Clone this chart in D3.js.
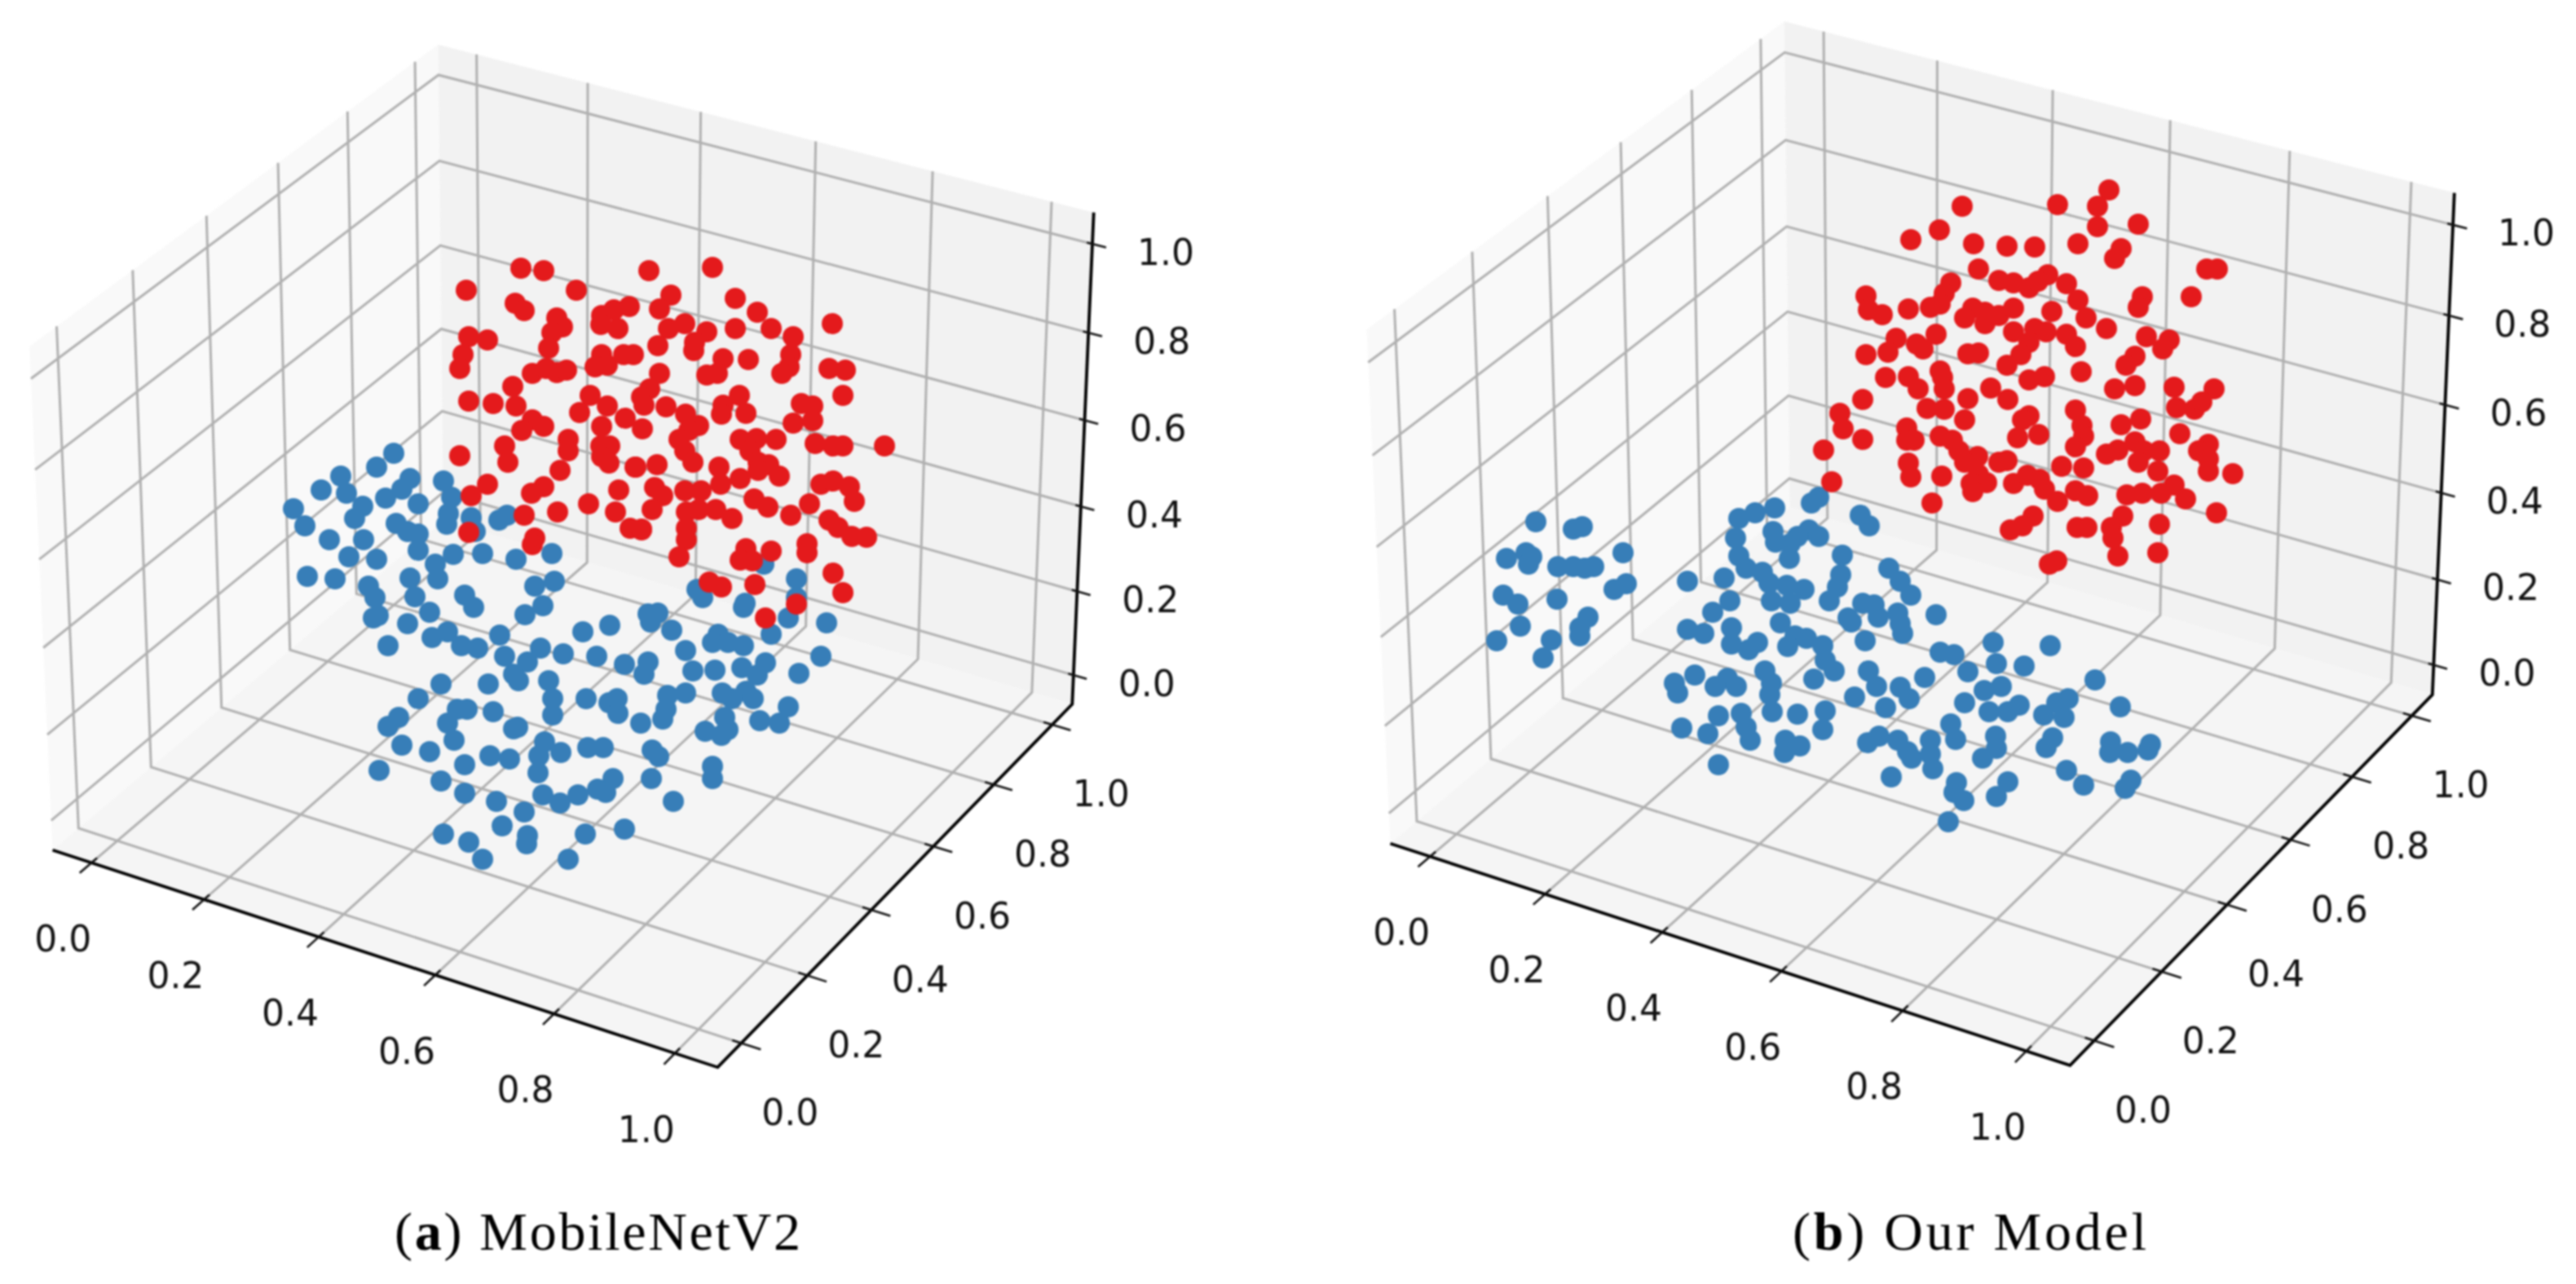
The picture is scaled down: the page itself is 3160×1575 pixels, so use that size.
<!DOCTYPE html>
<html>
<head>
<meta charset="utf-8">
<script src="https://cdn.jsdelivr.net/npm/d3@7"></script>
<style>
  html, body { margin: 0; background: #fff; }
  svg { display: block; filter: blur(0.9px); }
  .tick-label { font-family: "DejaVu Sans"; font-size: 44px; fill: #111; text-anchor: middle; dominant-baseline: central; }
  .caption { font-family: "Liberation Serif"; font-size: 66px; fill: #000; }
</style>
</head>
<body>
<div id="chart"></div>
<script>
const tickValues = [0, 0.2, 0.4, 0.6, 0.8, 1]
const tickLabels = ['0.0', '0.2', '0.4', '0.6', '0.8', '1.0']
const captions = [['(', 'a', ') MobileNetV2'], ['(', 'b', ') Our Model']]

// the depth of a 3d scatter can't be read back from a flat picture, so the points
// are kept as picture-plane positions (1 unit = 1000 px of the figure)
const blueA = [[.483,.556],[.462,.573],[.418,.584],[.394,.601],[.425,.605],[.503,.587],[.493,.600],[.473,.611],[.445,.621],[.435,.636],[.513,.618],[.544,.590],[.554,.610],[.550,.630],[.548,.643],[.578,.635],[.583,.652],[.622,.632],[.612,.638],[.360,.624],[.374,.645],[.404,.662],[.446,.662],[.486,.642],[.500,.652],[.513,.655],[.513,.675],[.556,.680],[.592,.679],[.633,.686],[.677,.679],[.428,.683],[.462,.686],[.377,.707],[.411,.710],[.534,.692],[.537,.710],[.680,.713],[.656,.719],[.503,.709],[.452,.719],[.460,.733],[.509,.732],[.570,.730],[.581,.745],[.666,.743],[.644,.754],[.527,.751],[.464,.755],[.458,.758],[.500,.765],[.855,.723],[.862,.733],[.914,.740],[.912,.745],[.967,.758],[.977,.710],[.977,.733],[.937,.692],[.795,.753],[.807,.752],[.798,.763],[.824,.773],[1.014,.764],[.946,.778],[.748,.767],[.715,.775],[.613,.779],[.476,.792],[.530,.782],[.549,.775],[.566,.792],[.586,.795],[.663,.795],[.691,.802],[.732,.805],[.619,.805],[.647,.812],[.841,.798],[.881,.778],[.874,.788],[.893,.788],[.912,.792],[.766,.815],[.795,.812],[.790,.827],[1.007,.805],[.850,.823],[.877,.822],[.910,.819],[.939,.813],[.929,.828],[.980,.826],[.630,.827],[.636,.835],[.673,.835],[.541,.839],[.599,.839],[.513,.857],[.719,.857],[.747,.862],[.757,.857],[.758,.875],[.841,.850],[.819,.853],[.886,.850],[.915,.848],[.924,.857],[.898,.857],[.678,.857],[.678,.877],[.561,.870],[.573,.870],[.489,.880],[.476,.891],[.549,.887],[.605,.873],[.817,.870],[.813,.882],[.786,.887],[.967,.867],[.932,.884],[.956,.887],[.889,.880],[.865,.897],[.893,.895],[.885,.902],[.635,.892],[.630,.894],[.557,.908],[.493,.914],[.527,.922],[.668,.910],[.688,.923],[.661,.927],[.721,.917],[.740,.917],[.800,.920],[.808,.928],[.570,.938],[.601,.927],[.625,.931],[.660,.948],[.465,.945],[.874,.940],[.874,.955],[.752,.955],[.799,.955],[.541,.958],[.733,.968],[.743,.972],[.570,.973],[.666,.975],[.709,.975],[.687,.985],[.609,.983],[.826,.983],[.643,.996],[.616,1.013],[.766,1.017],[.718,1.023],[.544,1.023],[.647,1.025],[.646,1.035],[.575,1.033],[.592,1.054],[.697,1.054]]

const redA = [[.639,.329],[.667,.332],[.572,.356],[.707,.356],[.796,.332],[.632,.372],[.643,.381],[.683,.390],[.690,.401],[.677,.408],[.673,.427],[.575,.413],[.598,.417],[.568,.435],[.564,.452],[.653,.458],[.670,.452],[.683,.457],[.695,.454],[.738,.387],[.753,.380],[.772,.376],[.758,.403],[.737,.398],[.738,.435],[.730,.450],[.745,.448],[.765,.435],[.777,.435],[.629,.474],[.633,.498],[.575,.492],[.605,.495],[.724,.485],[.745,.498],[.711,.506],[.653,.515],[.640,.528],[.667,.523],[.767,.513],[.738,.523],[.697,.539],[.697,.553],[.619,.547],[.623,.567],[.564,.559],[.748,.547],[.737,.547],[.738,.560],[.747,.568],[.779,.573],[.687,.577],[.598,.594],[.578,.608],[.667,.597],[.652,.605],[.759,.601],[.722,.618],[.643,.632],[.684,.628],[.755,.628],[.773,.648],[.787,.650],[.575,.653],[.656,.660],[.653,.668],
  [.874,.328],[.823,.362],[.809,.379],[.902,.366],[.929,.383],[.946,.403],[.902,.403],[1.021,.397],[.820,.403],[.840,.397],[.867,.407],[.852,.420],[.851,.430],[.807,.424],[.973,.413],[.970,.435],[.968,.450],[.959,.458],[.887,.440],[.918,.441],[.880,.458],[.867,.460],[1.017,.452],[1.037,.454],[1.034,.485],[.809,.458],[.797,.477],[.787,.487],[.790,.497],[.817,.499],[.907,.485],[.887,.497],[.885,.508],[.915,.507],[.983,.495],[.997,.498],[.973,.519],[.997,.516],[.788,.526],[.841,.508],[.857,.522],[.845,.528],[.833,.539],[.840,.553],[.850,.567],[.908,.539],[.928,.538],[.952,.539],[1.000,.544],[1.022,.547],[1.034,.547],[1.085,.547],[.920,.553],[.930,.567],[.943,.570],[.930,.577],[.956,.584],[.908,.587],[.806,.570],[.780,.573],[.882,.573],[.884,.594],[.803,.598],[.813,.608],[.840,.602],[.860,.602],[.800,.625],[1.007,.594],[1.022,.590],[1.042,.597],[1.048,.615],[.925,.612],[.942,.622],[.993,.618],[.970,.632],[.842,.628],[.857,.625],[.878,.625],[.898,.636],[1.017,.638],[1.028,.647],[1.045,.658],[1.063,.659],[.842,.648],[.842,.662],[.787,.649],[.833,.683],[.990,.667],[.990,.678],[.915,.673],[.908,.687],[.923,.688],[.946,.676],[1.022,.703],[1.034,.727],[.870,.714],[.885,.720],[.926,.717],[.977,.741],[.939,.758]]

const blueB = [[1.884,.640],[1.930,.649],[1.941,.646],[1.848,.685],[1.872,.678],[1.879,.683],[1.875,.692],[1.911,.695],[1.930,.695],[1.944,.697],[1.955,.695],[1.991,.678],[1.995,.716],[1.980,.723],[1.844,.730],[1.862,.741],[1.910,.735],[1.948,.757],[1.938,.770],[1.938,.780],[1.865,.768],[1.836,.786],[1.903,.785],[1.893,.807],[2.231,.610],[2.222,.617],[2.177,.623],[2.153,.629],[2.133,.636],[2.282,.632],[2.293,.645],[2.175,.652],[2.129,.660],[2.219,.650],[2.231,.658],[2.205,.658],[2.178,.665],[2.196,.667],[2.195,.685],[2.260,.681],[2.133,.682],[2.142,.697],[2.162,.702],[2.258,.705],[2.254,.720],[2.317,.697],[2.331,.713],[2.344,.730],[2.070,.713],[2.115,.709],[2.170,.715],[2.192,.718],[2.213,.723],[2.173,.737],[2.196,.740],[2.244,.737],[2.122,.737],[2.101,.751],[2.285,.740],[2.299,.742],[2.304,.757],[2.328,.752],[2.375,.754],[2.267,.758],[2.271,.763],[2.331,.765],[2.334,.777],[2.184,.764],[2.124,.770],[2.070,.772],[2.090,.777],[2.202,.780],[2.288,.786],[2.216,.783],[2.124,.790],[2.156,.788],[2.145,.797],[2.236,.792],[2.193,.793],[2.445,.788],[2.515,.792],[2.380,.800],[2.397,.803],[2.449,.814],[2.483,.817],[2.239,.810],[2.165,.823],[2.079,.828],[2.119,.832],[2.292,.823],[2.250,.823],[2.225,.833],[2.414,.824],[2.361,.831],[2.570,.834],[2.054,.838],[2.104,.842],[2.130,.842],[2.173,.838],[2.302,.842],[2.331,.843],[2.171,.852],[2.058,.850],[2.455,.842],[2.434,.847],[2.410,.862],[2.342,.857],[2.275,.855],[2.537,.857],[2.523,.862],[2.601,.867],[2.477,.865],[2.463,.873],[2.440,.873],[2.507,.877],[2.532,.880],[2.313,.868],[2.174,.873],[2.205,.876],[2.239,.872],[2.108,.878],[2.136,.875],[2.142,.892],[2.063,.893],[2.095,.900],[2.236,.895],[2.393,.888],[2.399,.907],[2.448,.903],[2.368,.908],[2.449,.918],[2.147,.908],[2.190,.908],[2.208,.915],[2.189,.923],[2.291,.911],[2.305,.903],[2.328,.908],[2.340,.922],[2.345,.930],[2.368,.925],[2.518,.905],[2.510,.917],[2.589,.910],[2.588,.923],[2.610,.923],[2.638,.913],[2.635,.920],[2.432,.930],[2.371,.943],[2.108,.938],[2.535,.945],[2.320,.953],[2.463,.959],[2.556,.963],[2.614,.957],[2.607,.967],[2.400,.960],[2.397,.972],[2.409,.982],[2.449,.977],[2.390,1.008]]

const redB = [[2.587,.233],[2.524,.251],[2.573,.253],[2.407,.253],[2.623,.275],[2.573,.278],[2.379,.282],[2.344,.294],[2.421,.299],[2.462,.302],[2.496,.303],[2.549,.299],[2.602,.305],[2.594,.317],[2.707,.330],[2.720,.330],[2.427,.330],[2.452,.344],[2.470,.347],[2.489,.353],[2.512,.337],[2.500,.345],[2.535,.348],[2.393,.347],[2.385,.360],[2.289,.363],[2.549,.368],[2.628,.364],[2.623,.377],[2.688,.364],[2.292,.380],[2.309,.386],[2.341,.379],[2.380,.373],[2.368,.377],[2.420,.378],[2.410,.390],[2.435,.383],[2.435,.397],[2.452,.387],[2.470,.378],[2.517,.382],[2.559,.390],[2.584,.403],[2.470,.407],[2.496,.403],[2.510,.407],[2.535,.410],[2.489,.420],[2.546,.425],[2.375,.410],[2.326,.415],[2.351,.422],[2.359,.428],[2.316,.432],[2.289,.435],[2.633,.413],[2.661,.417],[2.653,.428],[2.414,.434],[2.427,.433],[2.479,.435],[2.462,.448],[2.619,.437],[2.608,.448],[2.553,.456],[2.313,.463],[2.341,.462],[2.380,.455],[2.353,.477],[2.383,.463],[2.385,.477],[2.489,.466],[2.508,.462],[2.442,.476],[2.594,.477],[2.619,.473],[2.667,.475],[2.716,.477],[2.463,.490],[2.414,.489],[2.285,.490],[2.364,.501],[2.385,.502],[2.670,.500],[2.692,.502],[2.701,.493],[2.546,.503],[2.489,.510],[2.481,.515],[2.257,.507],[2.410,.515],[2.602,.521],[2.626,.514],[2.554,.522],[2.261,.526],[2.339,.525],[2.674,.532],[2.501,.533],[2.475,.537],[2.339,.540],[2.348,.540],[2.285,.539],[2.380,.535],[2.395,.540],[2.556,.535],[2.619,.542],[2.709,.545],[2.697,.553],[2.237,.552],[2.546,.548],[2.403,.553],[2.598,.552],[2.584,.557],[2.649,.553],[2.630,.553],[2.462,.565],[2.452,.567],[2.426,.560],[2.410,.567],[2.341,.568],[2.623,.567],[2.709,.563],[2.529,.572],[2.556,.574],[2.647,.578],[2.709,.578],[2.739,.581],[2.344,.585],[2.382,.584],[2.427,.582],[2.437,.592],[2.418,.593],[2.420,.603],[2.470,.593],[2.487,.583],[2.502,.588],[2.508,.600],[2.247,.591],[2.546,.602],[2.561,.608],[2.524,.615],[2.667,.595],[2.609,.607],[2.628,.605],[2.651,.605],[2.681,.612],[2.719,.629],[2.370,.617],[2.604,.633],[2.494,.633],[2.481,.645],[2.466,.650],[2.548,.647],[2.560,.647],[2.590,.647],[2.649,.643],[2.592,.660],[2.598,.682],[2.647,.678],[2.523,.688],[2.514,.692]]

const BLUE = '#377eb8'
const RED = '#e41a1c'
const DOT_R = 13
const W = 3160
const H = 1575

// each panel's centre and px per unit of the projected view plane
const panels = [
  { cx: 701, cy: 653, sx: 818, sy: 822, blue: blueA, red: redA, caption: captions[0], capX: 484, capLen: 498 },
  { cx: 2356, cy: 637, sx: 836, sy: 839, blue: blueB, red: redB, caption: captions[1], capX: 2199, capLen: 434 }
]

const svg = d3.select('#chart').append('svg').attr('width', W).attr('height', H)

// figure scales for the points
const scaleU = d3.scaleLinear().domain([0, W / 1000]).range([0, W])
const scaleV = d3.scaleLinear().domain([0, H / 1000]).range([0, H])

// axis limits, same for x, y and z
const norm = d3.scaleLinear().domain([-0.07, 1.07]).range([0, 1])

// mplot3d camera, elev 30 azim -60 dist 10, box aspect 4:4:3
const box = [1.143, 1.143, 0.857]
const project = (tx, ty, tz) => {
  const rx = (tx - 0.5) * box[0]
  const ry = (ty - 0.5) * box[1]
  const rz = (tz - 0.5) * box[2]
  const depth = 0.433 * rx - 0.75 * ry + 0.5 * rz
  const k = 10 / (10 - depth)
  return [(0.866 * rx + 0.5 * ry) * k, (-0.25 * rx + 0.433 * ry + 0.866 * rz) * k]
}

const drawPanel = (p) => {
  const x = d3.scaleLinear().domain([-1, 1]).range([p.cx - p.sx, p.cx + p.sx])
  const y = d3.scaleLinear().domain([-1, 1]).range([p.cy + p.sy, p.cy - p.sy])
  const toPx = (t) => {
    const v = project(t[0], t[1], t[2])
    return [x(v[0]), y(v[1])]
  }
  const line = d3.line()
  const path = pts => line(pts.map(toPx))
  const g = svg.append('g')

  // panes
  const panes = [
    { fill: '#f9f9f9', c: [[0, 0, 0], [0, 1, 0], [0, 1, 1], [0, 0, 1]] },
    { fill: '#f2f2f2', c: [[0, 1, 0], [1, 1, 0], [1, 1, 1], [0, 1, 1]] },
    { fill: '#f5f5f5', c: [[0, 0, 0], [1, 0, 0], [1, 1, 0], [0, 1, 0]] }
  ]
  g.selectAll('.pane').data(panes).join('path')
    .attr('class', 'pane')
    .attr('fill', d => d.fill)
    .attr('d', d => path(d.c) + 'Z')

  // grid, three sets of bent lines
  const grid = g.append('g').attr('fill', 'none').attr('stroke', '#b0b0b0').attr('stroke-width', 3)
  tickValues.forEach(v => {
    const t = norm(v)
    grid.append('path').attr('d', path([[t, 0, 0], [t, 1, 0], [t, 1, 1]]))
    grid.append('path').attr('d', path([[1, t, 0], [0, t, 0], [0, t, 1]]))
    grid.append('path').attr('d', path([[0, 0, t], [0, 1, t], [1, 1, t]]))
  })

  // axis edges
  const edges = g.append('g').attr('fill', 'none').attr('stroke', '#000').attr('stroke-width', 3.8)
  edges.append('path').attr('d', path([[0, 0, 0], [1, 0, 0], [1, 1, 0], [1, 1, 1]]))

  // ticks + labels
  const ticks = g.append('g').attr('fill', 'none').attr('stroke', '#111').attr('stroke-width', 2.6)
  const labelAt = (pos, off, text) => {
    g.append('text').attr('class', 'tick-label')
      .attr('x', pos[0] + off[0]).attr('y', pos[1] + off[1]).text(text)
  }
  tickValues.forEach((v, i) => {
    const t = norm(v)
    ticks.append('path').attr('d', path([[t, 0.013, 0], [t, -0.028, 0]]))
    ticks.append('path').attr('d', path([[0.987, t, 0], [1.028, t, 0]]))
    ticks.append('path').attr('d', path([[0.992, 1, t], [1.02, 1, t]]))
    labelAt(toPx([t, 0, 0]), [-35, 93], tickLabels[i])
    labelAt(toPx([1, t, 0]), [60, 85], tickLabels[i])
    labelAt(toPx([1, 1, t]), [90, 10], tickLabels[i])
  })

  // points, blue under red
  g.append('g').selectAll('circle').data(p.blue).join('circle')
    .attr('cx', d => scaleU(d[0])).attr('cy', d => scaleV(d[1]))
    .attr('r', DOT_R).attr('fill', BLUE)
  g.append('g').selectAll('circle').data(p.red).join('circle')
    .attr('cx', d => scaleU(d[0])).attr('cy', d => scaleV(d[1]))
    .attr('r', DOT_R).attr('fill', RED)

  const cap = svg.append('text').attr('class', 'caption')
    .attr('x', p.capX).attr('y', 1533)
    .attr('textLength', p.capLen).attr('lengthAdjust', 'spacing')
  cap.append('tspan').text(p.caption[0])
  cap.append('tspan').attr('font-weight', 'bold').text(p.caption[1])
  cap.append('tspan').text(p.caption[2])
}

panels.forEach(drawPanel)
</script>
</body>
</html>
